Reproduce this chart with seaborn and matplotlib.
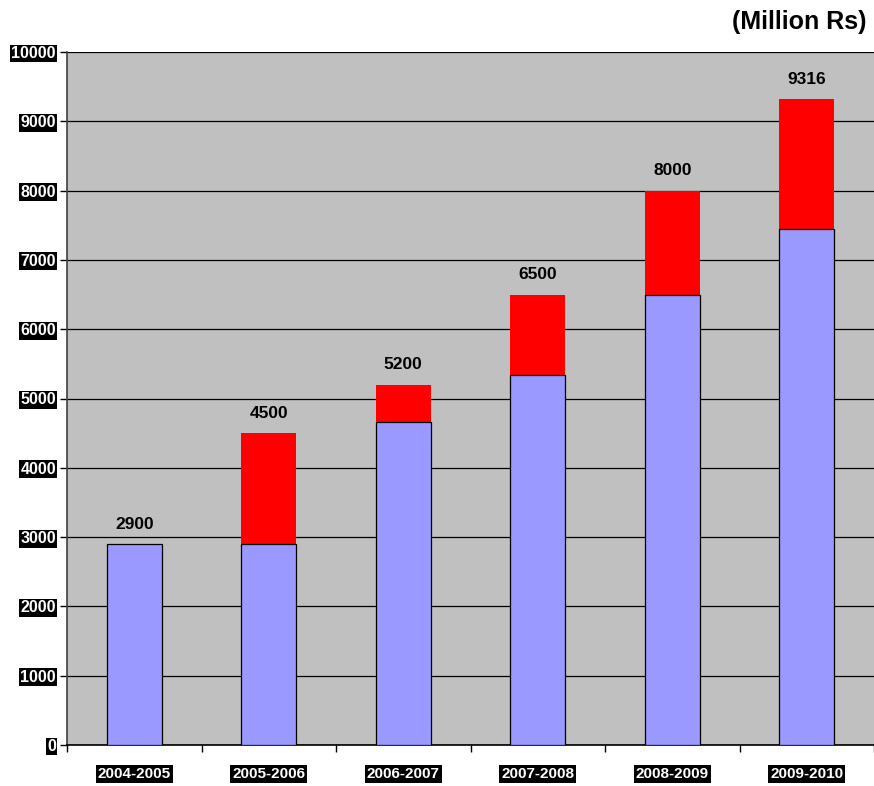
import matplotlib
matplotlib.use("Agg")
import matplotlib.pyplot as plt
import seaborn as sns
import pandas as pd
from matplotlib.ticker import FixedLocator

years = ["2004-2005", "2005-2006", "2006-2007", "2007-2008", "2008-2009", "2009-2010"]
base_values = [2900, 2900, 4660, 5340, 6500, 7450]
totals = [2900, 4500, 5200, 6500, 8000, 9316]
total_labels = ["2900", "4500", "5200", "6500", "8000", "9316"]

df = pd.DataFrame({"year": years, "base": base_values, "total": totals})

sns.set_theme(style="white")
plt.rcParams['font.family'] = ['Liberation Sans', 'DejaVu Sans']

fig = plt.figure(figsize=(8.74, 7.86), dpi=100)
ax = fig.add_axes([67/874, 1-745/786, 1-67/874, (745-52)/786])
ax.set_facecolor("#C0C0C0")

sns.barplot(data=df, x="year", y="total", color="#FF0000", width=0.41,
            saturation=1, edgecolor="none", ax=ax, zorder=3)
sns.barplot(data=df, x="year", y="base", color="#9999FF", width=0.41,
            saturation=1, edgecolor="black", linewidth=0.9, ax=ax, zorder=4)

ax.set_xlim(-0.5, 5.5)
ax.set_ylim(0, 10000)
ax.set_yticks(range(0, 10001, 1000))
ax.yaxis.grid(True, color="black", linewidth=0.9, zorder=1)
ax.set_axisbelow(True)
ax.set_xlabel("")
ax.set_ylabel("")

for i, (t, lab) in enumerate(zip(totals, total_labels)):
    ax.annotate(lab, (i, t), xytext=(0, 9), textcoords="offset points",
                ha="center", va="bottom", fontsize=12.5, fontweight="bold",
                color="black", zorder=6)

for lbl in ax.get_yticklabels():
    lbl.set_fontweight("bold")
    lbl.set_color("white")
    lbl.set_fontsize(11.5)
    lbl.set_bbox(dict(facecolor="black", edgecolor="none", pad=1))
ax.tick_params(axis="y", which="major", left=True, length=5, width=1, color="black", pad=3)

ax.xaxis.set_minor_locator(FixedLocator([-0.5, 0.5, 1.5, 2.5, 3.5, 4.5, 5.5]))
ax.tick_params(axis="x", which="minor", bottom=True, length=5, width=1, color="black")
ax.tick_params(axis="x", which="major", bottom=False, length=0, pad=16)
for lbl in ax.get_xticklabels():
    lbl.set_fontweight("bold")
    lbl.set_color("white")
    lbl.set_fontsize(11)
    lbl.set_bbox(dict(facecolor="black", edgecolor="none", pad=1.5))

for s in ["top", "right"]:
    ax.spines[s].set_visible(False)
ax.spines["left"].set_color("#404040")
ax.spines["left"].set_linewidth(1.2)
ax.spines["bottom"].set_color("black")
ax.spines["bottom"].set_linewidth(1.2)

fig.text(866/874, 1-22/786, "(Million Rs)", ha="right", va="center",
         fontsize=18, fontweight="bold", color="black")

fig.savefig("out.png", dpi=100, facecolor="white")
